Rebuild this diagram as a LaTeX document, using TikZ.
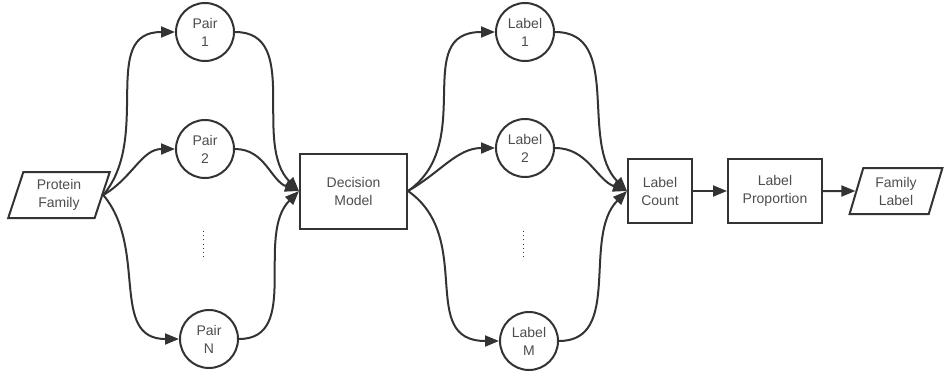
\documentclass[tikz,border=0pt]{standalone}
\usepackage{fontspec}
\setmainfont{Liberation Sans}
\usepackage{xcolor}
\usetikzlibrary{shapes.geometric, positioning, arrows.meta}
\definecolor{linegray}{HTML}{333333}
\definecolor{textgray}{HTML}{4D4D4D}

\begin{document}
\begin{tikzpicture}[x=1pt, y=1pt,
    box/.style={draw=linegray, rectangle, line width=2pt, align=center, font=\fontsize{14}{18}\selectfont, text=textgray, minimum height=64pt},
    io/.style={draw=linegray, trapezium, trapezium left angle=74, trapezium right angle=106, trapezium stretches=true, line width=2pt, align=center, font=\fontsize{14}{18}\selectfont, text=textgray, minimum height=46pt},
    pair/.style={draw=linegray, circle, line width=2pt, minimum size=58pt, inner sep=0pt, align=center, font=\fontsize{14}{18}\selectfont, text=textgray},
    arrow/.style={-{Triangle[length=14pt, width=11pt]}, line width=2pt, draw=linegray},
    dots/.style={draw=linegray, line width=1pt, dash pattern=on 1pt off 3.2pt}
]
    \useasboundingbox (0,0) rectangle (944,376);

    \node (pf) [io, minimum width=102pt] at (59,181) {Protein\\Family};

    \node (p1) [pair] at (205,344) {Pair\\1};
    \node (p2) [pair] at (205,227) {Pair\\2};
    \node (pn) [pair] at (209,37) {Pair\\N};

    \node (dm) [box, minimum width=107pt, minimum height=75pt] at (353.5,185) {Decision\\Model};

    \node (l1) [pair] at (525,344) {Label\\1};
    \node (l2) [pair] at (525,228) {Label\\2};
    \node (lm) [pair] at (529,35) {Label\\M};

    \node (lc) [box, minimum width=64pt] at (660,185) {Label\\Count};
    \node (lp) [box, minimum width=94pt] at (775,185) {Label\\Proportion};
    \node (fl) [io, minimum width=93pt] at (896,185) {Family\\Label};

    % vertical dots between 2 and N / M
    \draw [dots] (203,145) -- (203,119);
    \draw [dots] (523,145) -- (523,119);

    \draw [arrow] (pf.east) to[out=50, in=180, looseness=1.1] (p1.west);
    \draw [arrow] (pf.east) to[out=30, in=180] (p2.west);
    \draw [arrow] (pf.east) to[out=-50, in=180, looseness=1.1] (pn.west);

    \draw [arrow] (p1.east) to[out=0, in=135] (dm.west);
    \draw [arrow] (p2.east) to[out=0, in=160] (dm.west);
    \draw [arrow] (pn.east) to[out=0, in=-135] (dm.west);

    \draw [arrow] (dm.east) to[out=35, in=180, looseness=1.2] (l1.west);
    \draw [arrow] (dm.east) to[out=30, in=180] (l2.west);
    \draw [arrow] (dm.east) to[out=-35, in=180, looseness=1.2] (lm.west);

    \draw [arrow] (l1.east) to[out=0, in=135] (lc.west);
    \draw [arrow] (l2.east) to[out=0, in=160] (lc.west);
    \draw [arrow] (lm.east) to[out=0, in=-135] (lc.west);

    \draw [arrow] (lc) -- (lp);
    \draw [arrow] (lp) -- (fl);
\end{tikzpicture}
\end{document}
